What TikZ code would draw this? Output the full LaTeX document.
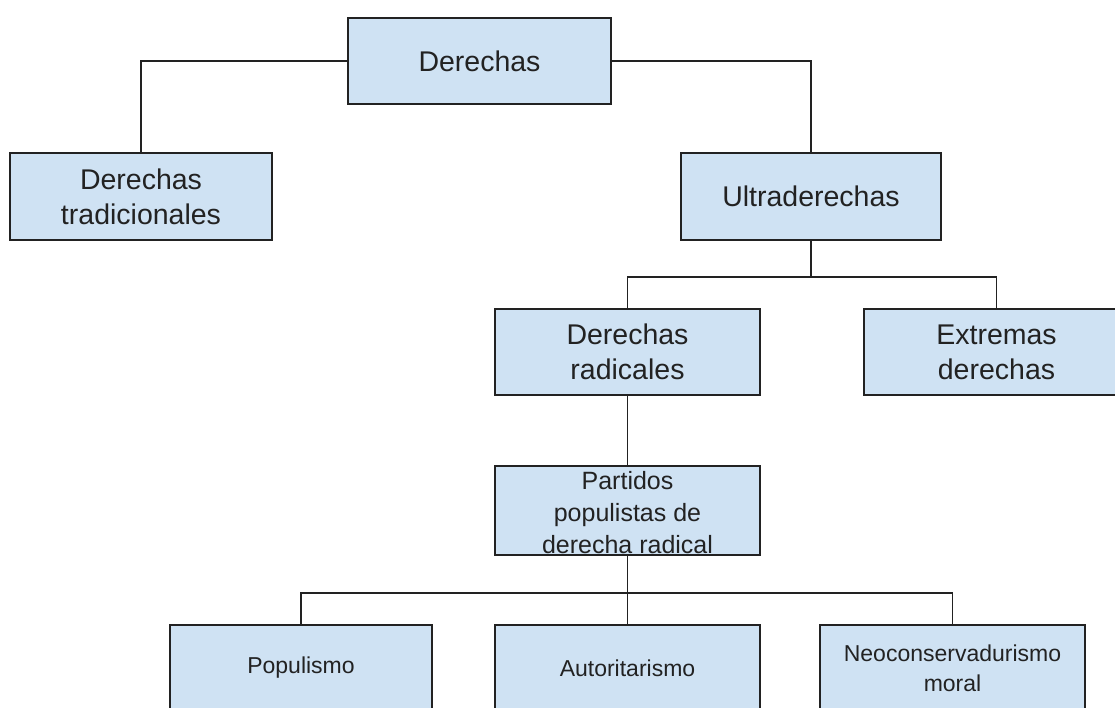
\documentclass[tikz,border=0pt]{standalone}
\usepackage{fontspec}
\setmainfont{Liberation Sans}
\definecolor{boxfill}{HTML}{CFE2F3}
\definecolor{ink}{HTML}{222222}
\begin{document}
\begin{tikzpicture}[x=1pt,y=-1pt,
  box/.style={draw=ink, fill=boxfill, line width=1.4pt, inner sep=0pt, align=center, text=ink},
  big/.style={font=\fontsize{28.5}{35}\selectfont},
  mid/.style={font=\fontsize{25}{32}\selectfont},
  small/.style={font=\fontsize{23}{30}\selectfont},
  conn/.style={draw=ink, line width=1.4pt}]
\useasboundingbox (0,0) rectangle (1115,708);
\fill[white] (0,0) rectangle (1115,708);
\clip (0,0) rectangle (1115,708);
\node[box, big, minimum width=263pt, minimum height=86pt] (der) at (479.5,61) {Derechas};
\node[box, big, minimum width=262pt, minimum height=87pt] (trad) at (141,196.5) {Derechas\\tradicionales};
\node[box, big, minimum width=260pt, minimum height=87pt] (ultra) at (811,196.5) {Ultraderechas};
\node[box, big, minimum width=265pt, minimum height=86pt] (rad) at (627.5,352) {Derechas\\radicales};
\node[box, big, minimum width=265pt, minimum height=86pt] (ext) at (996.5,352) {Extremas\\derechas};
\node[box, minimum width=265pt, minimum height=89pt] (part) at (627.5,510.5) {};
\node[mid, text=ink, align=center, inner sep=0pt] (parttext) at (627.5,513) {Partidos\\populistas de\\derecha radical};
\node[box, small, minimum width=262pt, minimum height=86pt] (pop) at (301,668) {Populismo};
\node[box, small, minimum width=265pt, minimum height=86pt] (auto) at (627.5,668) {Autoritarismo};
\node[box, small, minimum width=265pt, minimum height=86pt] (neo) at (952.5,668) {Neoconservadurismo\\moral};
\coordinate (j1) at (811,277);
\coordinate (j2) at (627.5,593);
\draw[conn] (der.west) -| (trad.north);
\draw[conn] (der.east) -| (ultra.north);
\draw[conn] (ultra.south) -- (j1);
\draw[conn] (rad.north) |- (j1) -| (ext.north);
\draw[conn] (rad.south) -- (part.north);
\draw[conn] (part.south) -- (auto.north);
\draw[conn] (pop.north) |- (j2) -| (neo.north);
\end{tikzpicture}
\end{document}
